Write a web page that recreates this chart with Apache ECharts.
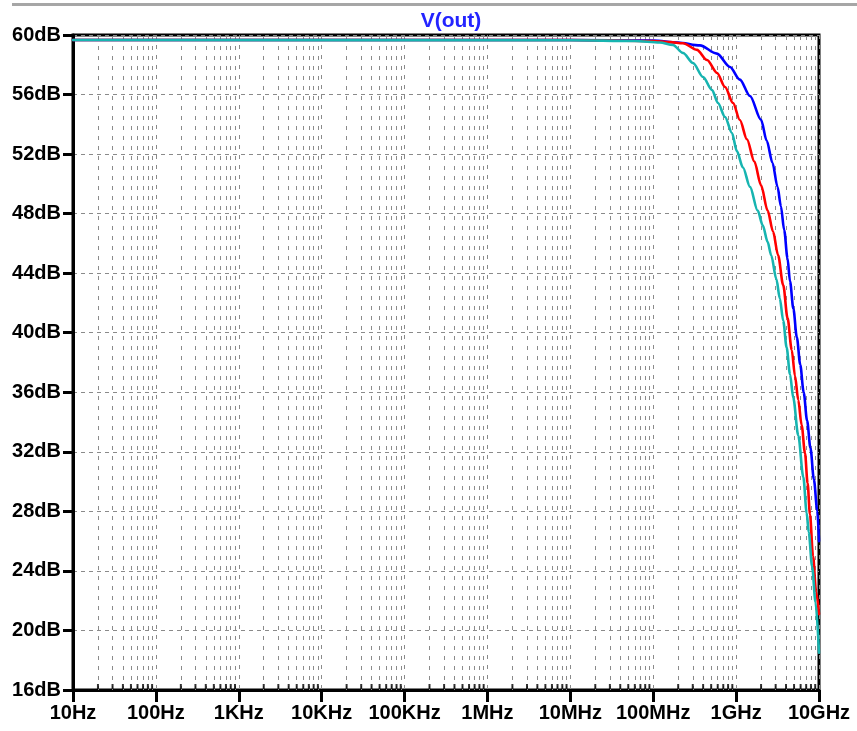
<!DOCTYPE html>
<html>
<head>
<meta charset="utf-8">
<script src="https://cdn.jsdelivr.net/npm/echarts@6/dist/echarts.min.js"></script>
<style>
  html, body { margin: 0; padding: 0; background: #fff; }
  #chart { width: 857px; height: 731px; }
</style>
</head>
<body>
<div id="chart"></div>
<script>
// frequency (Hz) / magnitude (dB)
const blueFreq = [10, 1e7, 1e8, 2e8, 3.66e8, 5.87e8, 8.43e8, 1.11e9, 1.47e9, 2.0e9, 2.34e9, 2.75e9, 3.16e9, 3.47e9, 3.80e9, 4.17e9, 4.47e9, 4.91e9, 5.40e9, 5.94e9, 6.53e9, 7.18e9, 7.89e9, 8.67e9, 9.53e9, 1e10];
const blueDb   = [59.66, 59.66, 59.62, 59.5, 59.3, 58.75, 57.85, 57.0, 55.9, 54.3, 52.9, 51.4, 49.8, 48.5, 46.9, 45.0, 43.45, 41.6, 39.7, 37.85, 36.0, 34.1, 32.25, 30.15, 28.05, 26.0];

const redFreq = [10, 1e7, 1e8, 1.6e8, 2.29e8, 3.37e8, 4.46e8, 5.89e8, 7.35e8, 9.18e8, 1.11e9, 1.35e9, 1.66e9, 2.0e9, 2.40e9, 2.79e9, 3.21e9, 3.70e9, 4.17e9, 4.69e9, 5.13e9, 5.62e9, 6.17e9, 6.78e9, 7.28e9, 7.78e9, 8.47e9, 9.23e9, 1e10];
const redDb   = [59.66, 59.66, 59.6, 59.52, 59.45, 59.0, 58.32, 57.45, 56.51, 55.43, 54.29, 53.0, 51.5, 49.9, 48.2, 46.8, 45.2, 43.2, 41.0, 38.84, 37.1, 35.48, 33.8, 31.9, 29.9, 27.8, 25.0, 22.6, 21.1];

const cyanFreq = [10, 1e7, 6e7, 1.2e8, 1.73e8, 2.29e8, 3.02e8, 3.99e8, 5.12e8, 6.04e8, 7.35e8, 8.91e8, 1.02e9, 1.21e9, 1.47e9, 1.82e9, 2.10e9, 2.40e9, 2.65e9, 3.06e9, 3.37e9, 3.70e9, 4.07e9, 4.47e9, 4.90e9, 5.62e9, 6.47e9, 7.10e9, 7.52e9, 8.26e9, 9.08e9, 1e10];
const cyanDb   = [59.66, 59.65, 59.6, 59.5, 59.33, 58.79, 58.12, 57.18, 56.31, 55.43, 54.49, 53.42, 52.2, 51.1, 49.8, 48.2, 47.2, 46.1, 45.2, 43.6, 42.3, 40.8, 39.0, 37.2, 35.6, 33.1, 30.3, 27.9, 26.6, 24.3, 21.9, 18.5];

const xTickLabels = ['10Hz', '100Hz', '1KHz', '10KHz', '100KHz', '1MHz', '10MHz', '100MHz', '1GHz', '10GHz'];

// minor positions 2..9 inside every decade
const minorFreqs = [];
for (let n = 1; n < 10; n++) {
  for (let k = 2; k <= 9; k++) minorFreqs.push(k * Math.pow(10, n));
}

function pairs(xs, ys) {
  return xs.map(function (x, i) { return [x, ys[i]]; });
}

const labelFont = {
  fontFamily: 'Liberation Sans',
  fontSize: 20,
  fontWeight: 'bold',
  color: '#000'
};

function trace(freq, db, color) {
  return {
    type: 'line',
    data: pairs(freq, db),
    showSymbol: false,
    smooth: 0.3,
    smoothMonotone: 'x',
    lineStyle: { color: color, width: 2.6, cap: 'round', join: 'round' },
    itemStyle: { color: color },
    z: 2
  };
}

var myChart = echarts.init(document.getElementById('chart'));
myChart.setOption({
  animation: false,
  backgroundColor: '#fff',
  title: {
    text: 'V(out)',
    left: 446,
    top: 6,
    textAlign: 'center',
    textStyle: {
      fontFamily: 'Liberation Sans',
      fontSize: 21,
      fontWeight: 'bold',
      color: '#2424ff'
    }
  },
  graphic: [{
    type: 'rect',
    left: 12,
    top: 3,
    shape: { width: 845, height: 3 },
    style: { fill: '#a6a6a6' }
  }],
  grid: {
    left: 73,
    right: 38,
    top: 35,
    bottom: 41,
    show: true,
    borderColor: '#000',
    borderWidth: 3
  },
  xAxis: {
    type: 'log',
    logBase: 10,
    min: 10,
    max: 1e10,
    splitNumber: 9,
    axisLine: { lineStyle: { color: '#000', width: 3 } },
    axisTick: { length: 12, lineStyle: { color: '#000', width: 3 } },
    axisLabel: Object.assign({
      margin: 13,
      showMinLabel: true,
      showMaxLabel: true,
      formatter: function (v) {
        return xTickLabels[Math.round(Math.log10(v)) - 1];
      }
    }, labelFont),
    splitLine: { show: true, lineStyle: { color: '#8a8a8a', width: 1, type: [4, 6] } }
  },
  yAxis: {
    type: 'value',
    min: 16,
    max: 60,
    interval: 4,
    axisLine: { lineStyle: { color: '#000', width: 3 } },
    axisTick: { length: 10, lineStyle: { color: '#000', width: 3 } },
    axisLabel: Object.assign({ margin: 12, formatter: '{value}dB' }, labelFont),
    splitLine: { show: true, lineStyle: { color: '#8a8a8a', width: 1, type: [4, 4] } }
  },
  series: [
    {
      // minor x ticks + minor vertical grid
      type: 'scatter',
      data: minorFreqs.map(function (f) { return [f, 16]; }),
      symbol: 'rect',
      symbolSize: [2, 5],
      symbolOffset: [0, -3.5],
      itemStyle: { color: '#000' },
      clip: false,
      silent: true,
      z: 4,
      markLine: {
        silent: true,
        z: 1,
        symbol: ['none', 'none'],
        label: { show: false },
        lineStyle: { color: '#8a8a8a', width: 1, type: [4, 6] },
        emphasis: { disabled: true },
        data: minorFreqs.map(function (f) { return { xAxis: f }; })
      }
    },
    trace(blueFreq, blueDb, '#0000ff'),
    trace(redFreq, redDb, '#ff0000'),
    trace(cyanFreq, cyanDb, '#17b4b0')
  ]
});
</script>
</body>
</html>
